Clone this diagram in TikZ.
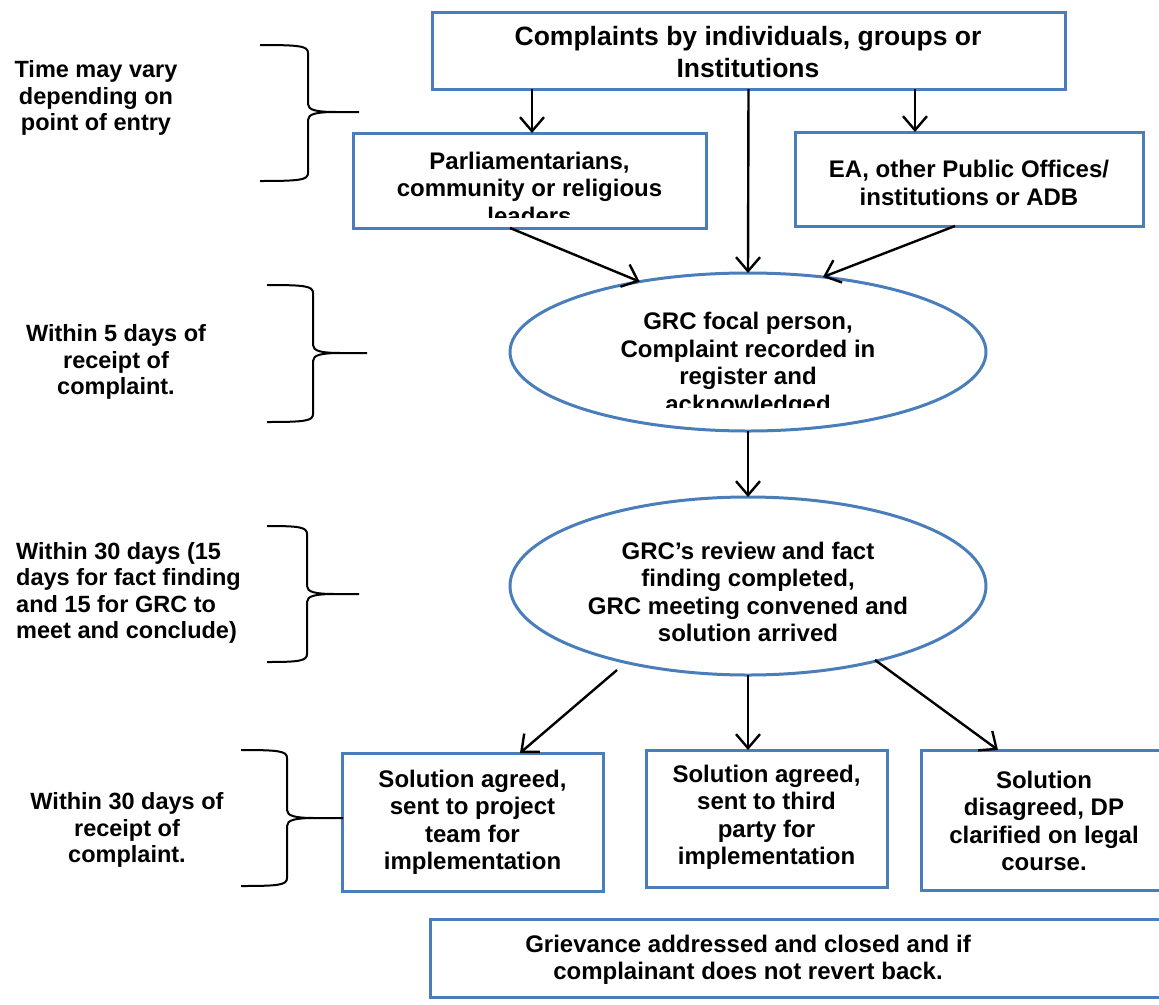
\documentclass[tikz,border=0pt]{standalone}
\usepackage{fontspec}
\setmainfont{Liberation Sans}
\usetikzlibrary{arrows.meta,shapes.geometric,calc}
\definecolor{boxblue}{RGB}{74,126,187}
\tikzset{
  box/.style={draw=boxblue, line width=3pt, inner sep=0pt, outer sep=0pt, rectangle},
  oval/.style={draw=boxblue, line width=3pt, inner sep=0pt, outer sep=0pt, ellipse},
  txt/.style={font=\bfseries\fontsize{24}{27.5}\selectfont, align=center, inner sep=0pt},
  sidetxt/.style={font=\bfseries\fontsize{23.5}{26.5}\selectfont, align=center, inner sep=0pt},
  arr/.style={draw=black, line width=2.4pt, -{Straight Barb[length=14pt,width=24pt,line width=2.4pt]}},
  brc/.style={draw=black, line width=2pt},
}
\newcommand{\curlyb}[6]{%
  \draw[brc] (#1,#4) .. controls ({#2-8},#4) and (#2,{#4+1}) .. (#2,{#4+8})
    -- (#2,{#5-8}) .. controls (#2,{#5-2}) and ({#2+8},#5) .. ({#2+28},#5) -- (#3,#5)
    ({#2+28},#5) .. controls ({#2+8},#5) and (#2,{#5+2}) .. (#2,{#5+8})
    -- (#2,{#6-8}) .. controls (#2,{#6-1}) and ({#2-8},#6) .. (#1,#6);}
\begin{document}
\begin{tikzpicture}[x=1pt,y=-1pt]
\useasboundingbox (0,0) rectangle (1159,1004);
% boxes
\node[box, minimum width=633pt, minimum height=77pt] (top) at (748.5,50.5) {};
\node[txt, font=\bfseries\fontsize{26.5}{32}\selectfont] (toptxt) at (748,52) {Complaints by individuals, groups or\\Institutions};
\node[box, minimum width=353pt, minimum height=95pt] (parl) at (529.5,180.5) {};
\begin{scope}
  \clip (parl.north west) rectangle ([yshift=11pt]parl.south east);
  \node[txt] (parltxt) at (529.5,188) {Parliamentarians,\\community or religious\\leaders};
\end{scope}
\node[box, minimum width=348pt, minimum height=94pt] (ea) at (969,179) {};
\node[txt] (eatxt) at (969,183) {EA, other Public Offices/\\institutions or ADB};
\node[oval, minimum width=476pt, minimum height=158pt] (ell1) at (748,352) {};
\begin{scope}
  \clip (520,285) rectangle (980,407);
  \node[txt] (ell1txt) at (748,365) {GRC focal person,\\Complaint recorded in\\register and\\acknowledged};
\end{scope}
\node[oval, minimum width=476pt, minimum height=178pt] (ell2) at (748,586) {};
\node[txt] (ell2txt) at (748,592) {GRC’s review and fact\\finding completed,\\GRC meeting convened and\\solution arrived};
\node[box, minimum width=261pt, minimum height=138pt] (b1) at (472.5,822) {};
\node[txt] (b1txt) at (472.5,822.5) {Solution agreed,\\sent to project\\team for\\implementation};
\node[box, minimum width=241pt, minimum height=137pt] (b2) at (766.5,818.5) {};
\node[txt] (b2txt) at (766.5,817.5) {Solution agreed,\\sent to third\\party for\\implementation};
\node[box, minimum width=242pt, minimum height=140pt] (b3) at (1042,820) {};
\node[txt] (b3txt) at (1044,821) {Solution\\disagreed, DP\\clarified on legal\\course.};
\node[box, minimum width=733pt, minimum height=78pt] (fin) at (796.5,958) {};
\node[txt] (fintxt) at (748,960) {Grievance addressed and closed and if\\complainant does not revert back.};
% side labels
\node[sidetxt] (l1) at (96,98) {Time may vary\\depending on\\point of entry};
\node[sidetxt] (l2) at (116,362) {Within 5 days of\\receipt of\\complaint.};
\node[sidetxt, align=left, anchor=west] (l3) at (16,593) {Within 30 days (15\\days for fact finding\\and 15 for GRC to\\meet and conclude)};
\node[sidetxt] (l4) at (127,830) {Within 30 days of\\receipt of\\complaint.};
% braces
\curlyb{260}{308}{359}{45}{112}{181}
\curlyb{267}{313}{367}{285}{353}{422}
\curlyb{267}{307}{359}{526}{594}{662}
\curlyb{241}{287}{343}{750}{818}{886}
% arrows
\draw[arr] ([xshift=-216.5pt]top.south) -- ([xshift=2.5pt]parl.north);
\draw[arr] ([xshift=166.5pt]top.south) -- ([xshift=-54pt]ea.north);
\draw[arr] (top.south) -- (ell1.north);
\draw[arr] ([xshift=-19.5pt]parl.south) -- (ell1.147);
\draw[arr] ([xshift=-14pt]ea.south) -- (ell1.45);
\draw[arr] (ell1.south) -- (ell2.north);
\draw[arr] ($(ell2.center)+(-131,84)$) -- ([xshift=47.5pt]b1.north);
\draw[arr] (ell2.south) -- (ell2.south |- b2.north);
\draw[arr] ($(ell2.center)+(127,74)$) -- ([xshift=-44pt]b3.north);
\end{tikzpicture}
\end{document}
